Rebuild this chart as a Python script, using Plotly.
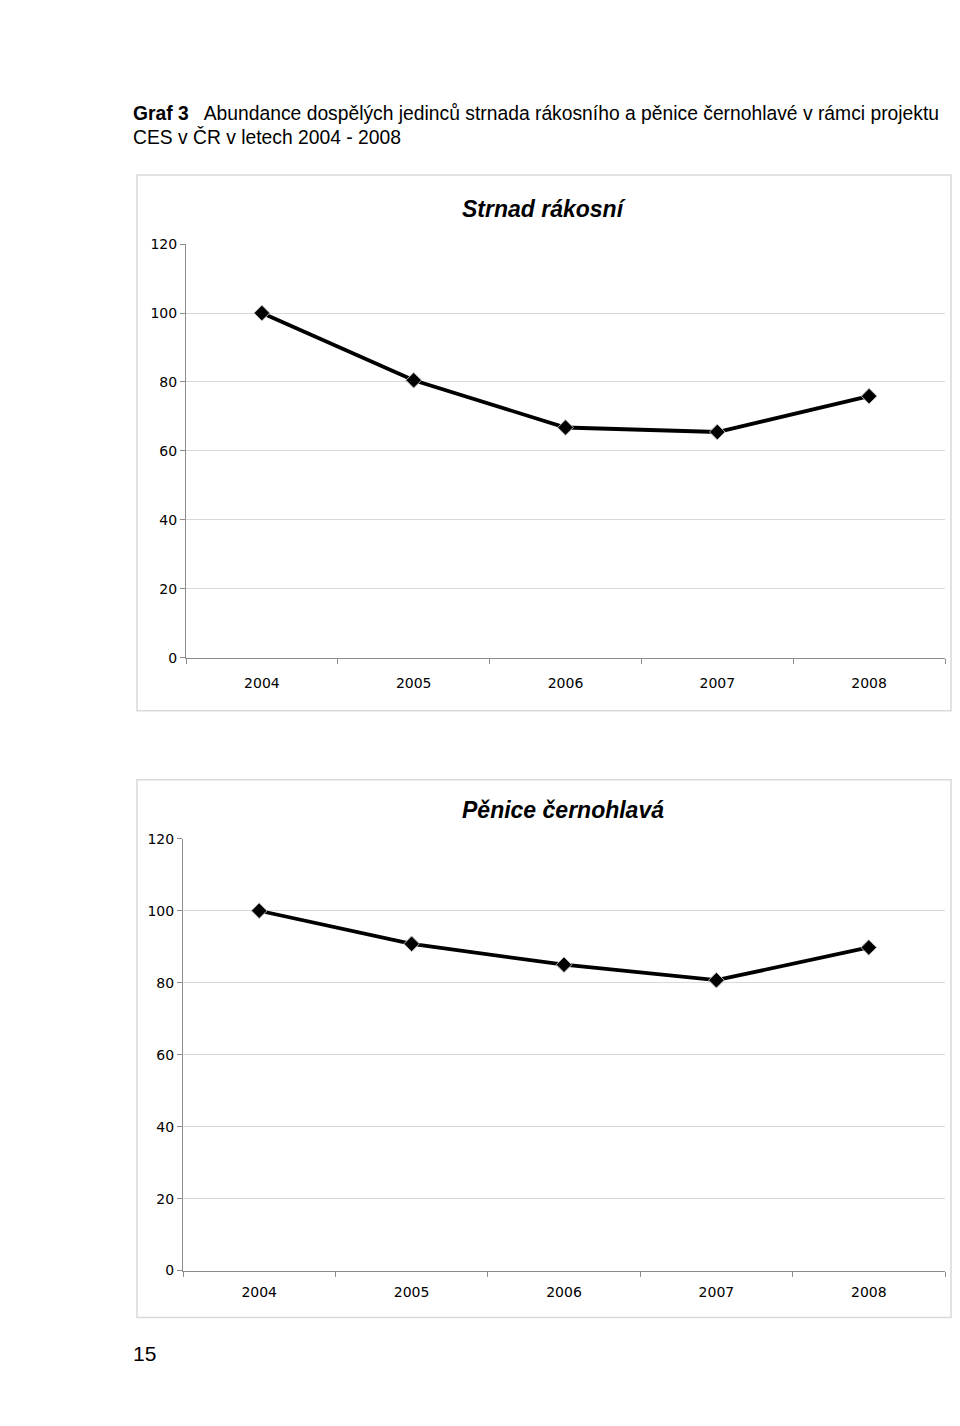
import plotly.graph_objects as go

# the page around the figure adds blank space and squeezes it a little vertically,
# so page positions are mapped back to figure positions
ML, MT, SY = 8, 16, 0.989
W, H = 960 - 2 * ML, 1426 - 2 * MT

years = ["2004", "2005", "2006", "2007", "2008"]
strnad = [100, 80.5, 66.8, 65.5, 75.9]
penice = [100, 90.8, 85.0, 80.7, 89.8]
y_ticks = [0, 20, 40, 60, 80, 100, 120]


def px(x):
    # page pixel -> paper fraction
    return (x - ML) / W


def py(y):
    return 1 - (y / SY - MT) / H


fig = go.Figure()

for name, vals, xa, ya in [("Strnad rákosní", strnad, "x", "y"),
                           ("Pěnice černohlavá", penice, "x2", "y2")]:
    fig.add_trace(go.Scatter(
        x=years, y=vals, xaxis=xa, yaxis=ya, name=name,
        mode="lines+markers",
        line=dict(color="black", width=3.8),
        marker=dict(symbol="diamond", size=12, color="black",
                    line=dict(color="#bbbbbb", width=1)),
        showlegend=False, cliponaxis=False,
    ))

tick_font = dict(family="DejaVu Sans", size=14, color="black")


def xaxis(domain, standoff):
    return dict(domain=domain, type="category", range=[-0.5, 4.5],
                showgrid=False, showline=True, linecolor="#8c8c8c", linewidth=1,
                ticks="outside", tickson="boundaries", ticklen=5, tickcolor="#8c8c8c",
                ticklabelstandoff=standoff,
                tickfont=tick_font, fixedrange=True, zeroline=False)


def yaxis(domain, anchor):
    return dict(domain=domain, anchor=anchor, range=[0, 120], tickvals=y_ticks,
                showgrid=True, gridcolor="#d9d9d9", gridwidth=1,
                showline=True, linecolor="#8c8c8c", linewidth=1,
                ticks="outside", ticklen=5, tickcolor="#8c8c8c",
                tickfont=tick_font, zeroline=False, fixedrange=True)


fig.update_layout(
    width=W, height=H,
    margin=dict(l=0, r=0, t=0, b=0),
    paper_bgcolor="white", plot_bgcolor="white",
    xaxis=dict(xaxis([px(186), px(945)], 12), anchor="y"),
    yaxis=yaxis([py(658), py(244)], "x"),
    xaxis2=dict(xaxis([px(183), px(945)], 9), anchor="y2"),
    yaxis2=yaxis([py(1271), py(839)], "x2"),
)

# chart frames
for y0, y1 in [(175, 711), (780, 1318)]:
    fig.add_shape(type="rect", xref="paper", yref="paper",
                  x0=px(137), x1=px(951), y0=py(y1), y1=py(y0),
                  line=dict(color="#d9d9d9", width=1.5), layer="below")

title_font = dict(family="Liberation Sans", size=23, color="black")
fig.add_annotation(text="<b><i>Strnad rákosní</i></b>", x=px(544), y=py(209),
                   xref="paper", yref="paper", yanchor="middle", showarrow=False,
                   font=title_font)
fig.add_annotation(text="<b><i>Pěnice černohlavá</i></b>", x=px(563), y=py(810),
                   xref="paper", yref="paper", yanchor="middle", showarrow=False,
                   font=title_font)

head_font = dict(family="Liberation Sans", size=19.3, color="black")
fig.add_annotation(
    text="<b>Graf 3</b>&nbsp;&nbsp; Abundance dospělých jedinců strnada rákosního a pěnice černohlavé v rámci projektu",
    x=px(131), y=py(113), xref="paper", yref="paper", xanchor="left", yanchor="middle",
    showarrow=False, font=head_font)
fig.add_annotation(text="CES v ČR v letech 2004 - 2008",
                   x=px(131), y=py(137), xref="paper", yref="paper", xanchor="left",
                   yanchor="middle", showarrow=False, font=head_font)

fig.add_annotation(text="15", x=px(131), y=py(1354), xref="paper", yref="paper",
                   xanchor="left", yanchor="middle", showarrow=False,
                   font=dict(family="Liberation Sans", size=21, color="black"))

fig.write_html("out.html")
